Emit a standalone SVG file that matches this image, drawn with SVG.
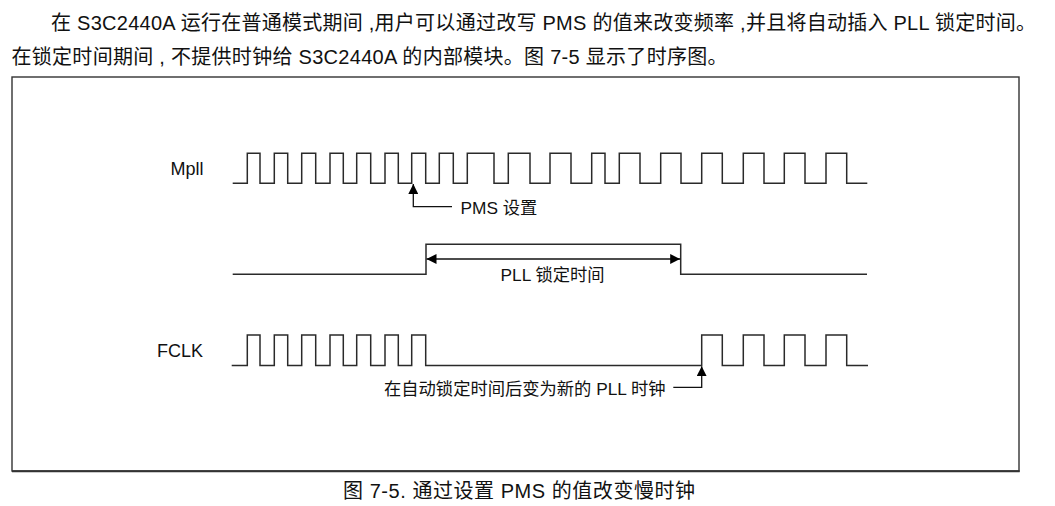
<svg xmlns="http://www.w3.org/2000/svg" width="1055" height="506" viewBox="0 0 1055 506">
<style>
  .txt { font-family: "Liberation Sans", "Noto Sans CJK SC", sans-serif; fill: #111; }
  .body { font-size: 20px; }
  .lbl { font-size: 18px; }
  .ann { font-size: 17.3px; }
  .wave { fill: none; stroke: #2a2a2a; stroke-width: 1.5; stroke-linejoin: miter; }
  .conn { fill: none; stroke: #111; stroke-width: 1.3; }
  .frame { fill: #fff; stroke: #333; stroke-width: 1.4; }
</style>
<defs>
  <marker id="arrow" viewBox="0 0 10 10" refX="10" refY="5" markerWidth="10" markerHeight="10" markerUnits="userSpaceOnUse" orient="auto-start-reverse">
    <path d="M0,0 L10,5 L0,10 z" fill="#000"/>
  </marker>
</defs>
<rect width="1055" height="506" fill="#fff"/>

<g id="intro-text">
  <text class="txt body" x="51" y="30" textLength="985" lengthAdjust="spacing">在 S3C2440A 运行在普通模式期间 ,用户可以通过改写 PMS 的值来改变频率 ,并且将自动插入 PLL 锁定时间。</text>
  <text class="txt body" x="11.5" y="63.5" textLength="716" lengthAdjust="spacing">在锁定时间期间 , 不提供时钟给 S3C2440A 的内部模块。图 7-5 显示了时序图。</text>
</g>

<g id="frame">
  <rect class="frame" x="12" y="77" width="1007" height="394"/>
  <line x1="12" y1="471.3" x2="1019.7" y2="471.3" stroke="#333" stroke-width="2"/>
</g>

<g id="mpll">
  <text class="txt lbl" x="170.5" y="175">Mpll</text>
  <path class="wave" d="M232.7,183.3 H247.3 V153.3 H260 V183.3 H274.3 V153.3 H287.7 V183.3 H301.7 V153.3 H315.7 V183.3 H330 V153.3 H343.3 V183.3 H356.7 V153.3 H370.7 V183.3 H385 V153.3 H398.3 V183.3 H411.7 V153.3 H425.7 V183.3 H439.3 V153.3 H453.3 V183.3 H467.3 V153.3 H494 V183.3 H508.3 V153.3 H530 V183.3 H550 V153.3 H571 V183.3 H591.7 V153.3 H605 V183.3 H619.3 V153.3 H640 V183.3 H660.7 V153.3 H681 V183.3 H701.7 V153.3 H722.3 V183.3 H743.3 V153.3 H764 V183.3 H784.3 V153.3 H805 V183.3 H826 V153.3 H846.7 V183.3 H867.3"/>
</g>

<g id="pll-lock">
  <path class="wave" d="M232.7,274.3 H426 V244.3 H680.7 V274.3 H867"/>
  <text class="txt ann" x="500.5" y="281">PLL 锁定时间</text>
</g>

<g id="fclk">
  <text class="txt lbl" x="157" y="357.3">FCLK</text>
  <path class="wave" d="M231.7,365.5 H247.3 V335 H260 V365.5 H274.3 V335 H287.7 V365.5 H301.7 V335 H315.7 V365.5 H330 V335 H343.3 V365.5 H356.7 V335 H370.7 V365.5 H385 V335 H398.3 V365.5 H411.7 V335 H425.7 V365.5 H701.7 V335 H722.3 V365.5 H743.3 V335 H764 V365.5 H784.3 V335 H805 V365.5 H826 V335 H846.7 V365.5 H868"/>
</g>

<g id="pms-note">
  <text class="txt ann" x="460.5" y="214">PMS 设置</text>
</g>

<g id="fclk-note">
  <text class="txt ann" x="384" y="394.5">在自动锁定时间后变为新的 PLL 时钟</text>
</g>

<g id="connectors">
  <path class="conn" d="M452,206.7 H413.3 V184" marker-end="url(#arrow)"/>
  <line class="conn" x1="426.5" y1="259" x2="680.2" y2="259" marker-start="url(#arrow)" marker-end="url(#arrow)"/>
  <path class="conn" d="M673.3,387.3 H701.7 V366.2" marker-end="url(#arrow)"/>
</g>

<g id="caption">
  <text class="txt body" x="343" y="498" textLength="352" lengthAdjust="spacing">图 7-5. 通过设置 PMS 的值改变慢时钟</text>
</g>
</svg>
